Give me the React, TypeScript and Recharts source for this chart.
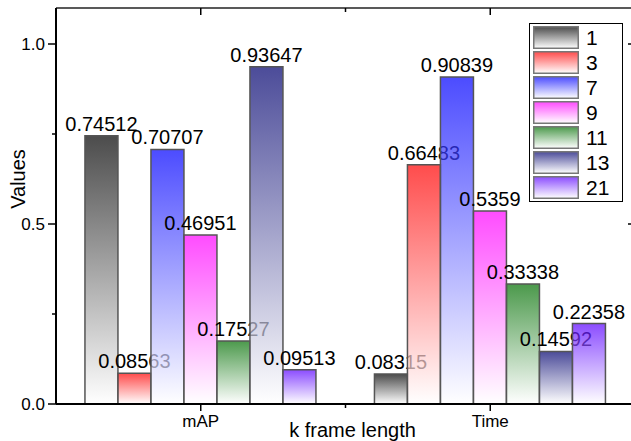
import React from "react";
import { BarChart, Bar, XAxis, YAxis, Legend, Rectangle } from "recharts";

// k frame length groups
const categories = ["mAP", "Time"];
const seriesNames = ["1", "3", "7", "9", "11", "13", "21"];
const k1 = [0.74512, 0.08315];
const k3 = [0.08563, 0.66483];
const k7 = [0.70707, 0.90839];
const k9 = [0.46951, 0.5359];
const k11 = [0.17527, 0.33338];
const k13 = [0.93647, 0.14592];
const k21 = [0.09513, 0.22358];
const yTicks = [0, 0.25, 0.5, 0.75, 1.0];
const majorTicks = [0, 0.5, 1.0];

const COLORS = ["#000000", "#ff0000", "#0000ff", "#ff00ff", "#006e00", "#00006e", "#5a00ff"];
const values = [k1, k3, k7, k9, k11, k13, k21];

const series = seriesNames.map((name, i) => ({ key: "k" + name, name, color: COLORS[i], vals: values[i] }));
const rows = categories.map((name, ci) => {
  const r: Record<string, string | number> = { name };
  series.forEach((s) => (r[s.key] = s.vals[ci]));
  return r;
});

const LeftTick = (p: any) => {
  const major = majorTicks.includes(p.payload.value);
  return (
    <g>
      <line x1={p.x} x2={p.x - (major ? 8 : 4)} y1={p.y} y2={p.y} stroke="#000" strokeWidth={1.5} />
      {major && (
        <text x={p.x - 11} y={p.y} dy="0.35em" textAnchor="end" fontSize={17} fill="#000">
          {p.payload.value.toFixed(1)}
        </text>
      )}
    </g>
  );
};

const RightTick = (p: any) => {
  const major = majorTicks.includes(p.payload.value);
  return <line x1={p.x} x2={p.x - (major ? 7 : 4)} y1={p.y} y2={p.y} stroke="#000" strokeWidth={1.5} />;
};

const BottomTick = (p: any) => {
  const off = p.payload.offset;
  return (
    <g>
      <line x1={p.x} x2={p.x} y1={p.y} y2={p.y + 7} stroke="#000" strokeWidth={1.5} />
      {p.index === 0 && off ? (
        <line x1={p.x + off} x2={p.x + off} y1={p.y} y2={p.y + 4} stroke="#000" strokeWidth={1.5} />
      ) : null}
      <text x={p.x} y={p.y + 23} textAnchor="middle" fontSize={17} fill="#000">
        {p.payload.value}
      </text>
    </g>
  );
};

const TopTick = (p: any) => {
  const off = p.payload.offset;
  return (
    <g>
      <line x1={p.x} x2={p.x} y1={p.y} y2={p.y + 7} stroke="#000" strokeWidth={1.5} />
      {p.index === 0 && off ? (
        <line x1={p.x + off} x2={p.x + off} y1={p.y} y2={p.y + 4} stroke="#000" strokeWidth={1.5} />
      ) : null}
    </g>
  );
};

// bar + its value label drawn together, so later series cover earlier labels (as in Origin)
const makeShape = (key: string) => (props: any) => {
  const { x, y, width, height, fill, fillOpacity, stroke, strokeWidth } = props;
  return (
    <g>
      <text x={x + width / 2} y={y - 5} textAnchor="middle" fontSize={20} fill="#000">
        {props.payload[key]}
      </text>
      <Rectangle x={x} y={y} width={width} height={height} fill={fill} fillOpacity={fillOpacity} stroke={stroke} strokeWidth={strokeWidth} />
    </g>
  );
};

const LegendBox = () => (
  <div style={{ border: "1px solid #000", background: "#fff", padding: "1px 3px", width: 86 }}>
    {series.map((s) => (
      <div key={s.key} style={{ display: "flex", alignItems: "center", height: 25 }}>
        <svg width={46} height={23}>
          <defs>
            <linearGradient id={"lg-" + s.key} x1="0" y1="0" x2="0" y2="1">
              <stop offset="0%" stopColor={s.color} />
              <stop offset="100%" stopColor="#fff" />
            </linearGradient>
          </defs>
          <rect x={0.75} y={0.75} width={44.5} height={21.5} fill={`url(#lg-${s.key})`} fillOpacity={0.7} stroke="#777" strokeWidth={1.5} />
        </svg>
        <span style={{ marginLeft: 7, fontSize: 21, lineHeight: "25px", color: "#000" }}>{s.name}</span>
      </div>
    ))}
  </div>
);

export default function App() {
  return (
    <div
      style={{
        position: "absolute",
        left: 0,
        top: 0,
        width: 631,
        height: 441,
        overflow: "hidden",
        background: "#fff",
        fontFamily: "'Liberation Sans', Arial, sans-serif",
      }}
    >
      <BarChart width={640} height={441} data={rows} margin={{ top: 0, right: 0, bottom: 0, left: 0 }} barCategoryGap="10%" barGap={0}>
        <defs>
          {series.map((s) => (
            <linearGradient key={s.key} id={"g-" + s.key} x1="0" y1="0" x2="0" y2="1">
              <stop offset="0%" stopColor={s.color} />
              <stop offset="100%" stopColor="#fff" />
            </linearGradient>
          ))}
        </defs>
        <XAxis
          dataKey="name"
          height={37}
          axisLine={{ stroke: "#000", strokeWidth: 2 }}
          tickLine={false}
          tickSize={0}
          tickMargin={0}
          tick={<BottomTick />}
          label={{ value: "k frame length", position: "insideBottom", offset: 4, dx: 7, fontSize: 20, fill: "#000" }}
        />
        <XAxis
          xAxisId="top"
          orientation="top"
          dataKey="name"
          height={8}
          axisLine={{ stroke: "#222", strokeWidth: 1.5 }}
          tickLine={false}
          tickSize={0}
          tickMargin={0}
          tick={<TopTick />}
        />
        <YAxis
          width={56}
          domain={[0, 1.1]}
          ticks={yTicks}
          allowDataOverflow
          axisLine={{ stroke: "#000", strokeWidth: 2 }}
          tickLine={false}
          tickSize={0}
          tickMargin={0}
          tick={<LeftTick />}
          label={{ value: "Values", angle: -90, position: "insideLeft", offset: 18, dy: -27, fontSize: 20, fill: "#000", style: { textAnchor: "middle" } }}
        />
        <YAxis
          yAxisId="right"
          orientation="right"
          width={5}
          domain={[0, 1.1]}
          ticks={yTicks}
          allowDataOverflow
          axisLine={{ stroke: "#000", strokeWidth: 1.5 }}
          tickLine={false}
          tickSize={0}
          tickMargin={0}
          tick={<RightTick />}
        />
        <Legend
          layout="vertical"
          align="center"
          verticalAlign="middle"
          content={<LegendBox />}
          wrapperStyle={{ position: "absolute", left: 529, top: 23, width: 94 }}
        />
        {series.map((s) => (
          <Bar
            key={s.key}
            dataKey={s.key}
            name={s.name}
            fill={`url(#g-${s.key})`}
            fillOpacity={0.7}
            stroke="#555"
            strokeWidth={1.5}
            shape={makeShape(s.key)}
            isAnimationActive={false}
          />
        ))}
      </BarChart>
    </div>
  );
}
